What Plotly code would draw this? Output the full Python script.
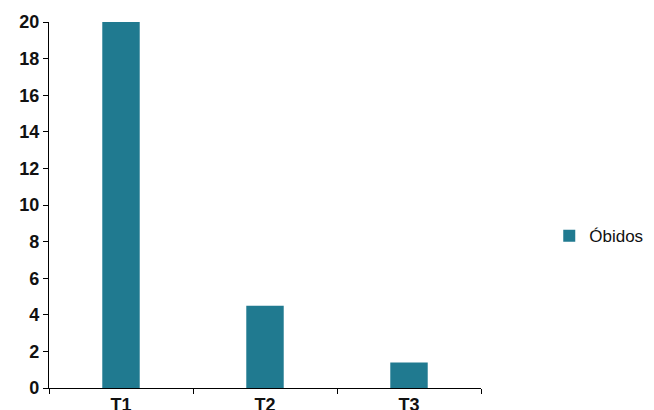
import plotly.graph_objects as go

categories = ["T1", "T2", "T3"]
obitos = [20, 4.5, 1.4]
series_name = "Óbidos"
y_ticks = [0, 2, 4, 6, 8, 10, 12, 14, 16, 18, 20]

FONT = "Liberation Sans, Arial, sans-serif"

fig = go.Figure()
fig.add_trace(go.Bar(
    x=categories, y=obitos, name=series_name,
    marker=dict(color="#207A90", line=dict(width=0)),
    width=0.26, showlegend=True,
))

fig.update_layout(
    width=654, height=410,
    margin=dict(l=41, r=181, t=14, b=30, autoexpand=False),
    paper_bgcolor="white", plot_bgcolor="white",
    font=dict(family=FONT, color="#111111"),
    showlegend=True,
    legend=dict(x=1.158, xanchor="left", y=0.415, yanchor="middle",
                font=dict(size=17, color="#111111"), bgcolor="rgba(0,0,0,0)"),
    xaxis=dict(
        type="category", automargin=False, showgrid=False, showline=True,
        linecolor="black", linewidth=1.3,
        ticks="outside", ticklen=5, tickcolor="black", tickwidth=1.3,
        tickson="boundaries", ticklabelstandoff=0,
        tickfont=dict(size=18, family=FONT, weight="bold"),
        range=[-0.5, 2.5],
    ),
    yaxis=dict(
        range=[0, 20], tickvals=y_ticks, automargin=False, showgrid=False, zeroline=False,
        showline=True, linecolor="black", linewidth=1.3,
        ticks="outside", ticklen=5, tickcolor="black", tickwidth=1.3,
        tickfont=dict(size=18, family=FONT, weight="bold"),
    ),
)

fig.write_html("out.html")
